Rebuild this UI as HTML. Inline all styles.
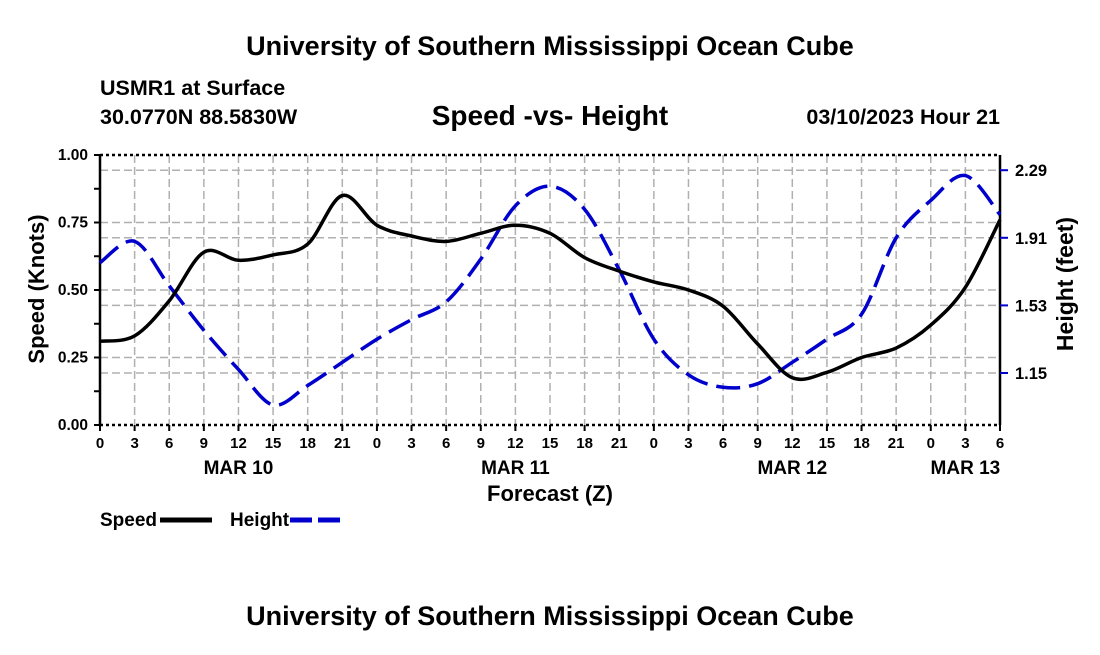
<!DOCTYPE html>
<html><head><meta charset="utf-8"><style>
body{margin:0;background:#fff;}
svg text{font-family:"Liberation Sans",sans-serif;font-weight:bold;fill:#000;}
</style></head><body>
<svg id="chart" width="1100" height="650" xmlns="http://www.w3.org/2000/svg">
<text x="550" y="55" font-size="27" text-anchor="middle">University of Southern Mississippi Ocean Cube</text>
<text x="100" y="95" font-size="21.5">USMR1 at Surface</text>
<text x="100" y="124" font-size="21.5">30.0770N  88.5830W</text>
<text x="550" y="125" font-size="28" text-anchor="middle">Speed -vs- Height</text>
<text x="1000" y="124" font-size="21.5" text-anchor="end">03/10/2023 Hour 21</text>
<g id="grid"></g>
<g id="axes"></g>
<g id="series"></g>
<text transform="translate(44,289) rotate(-90)" font-size="22" text-anchor="middle">Speed (Knots)</text>
<text transform="translate(1073,284) rotate(-90)" font-size="23" text-anchor="middle">Height (feet)</text>
<text x="550" y="501" font-size="22" text-anchor="middle">Forecast (Z)</text>
<g>
<text x="100" y="526" font-size="19">Speed</text>
<line x1="160" y1="520" x2="212" y2="520" stroke="#000" stroke-width="5"/>
<text x="230" y="526" font-size="19">Height</text>
<line x1="290" y1="520" x2="342" y2="520" stroke="#00c" stroke-width="5" stroke-dasharray="22,6"/>
</g>
<text x="550" y="625" font-size="27" text-anchor="middle">University of Southern Mississippi Ocean Cube</text>
</svg>
<script>
const hourLabels=["0","3","6","9","12","15","18","21","0","3","6","9","12","15","18","21","0","3","6","9","12","15","18","21","0","3","6"];
const dayLabels=["MAR 10","MAR 11","MAR 12","MAR 13"];
const dayIndex=[4,12,20,25];
const speed=[0.31,0.33,0.46,0.64,0.61,0.63,0.67,0.85,0.74,0.70,0.68,0.71,0.74,0.71,0.62,0.57,0.53,0.50,0.44,0.30,0.175,0.195,0.25,0.285,0.37,0.51,0.76];
const height=[1.77,1.89,1.64,1.39,1.17,0.97,1.08,1.21,1.34,1.45,1.55,1.79,2.09,2.20,2.07,1.73,1.34,1.14,1.07,1.09,1.21,1.34,1.48,1.91,2.12,2.26,2.04];
const speedTicks=[0,0.25,0.5,0.75,1.0];
const speedTickLabels=["0.00","0.25","0.50","0.75","1.00"];
const heightTicks=[1.15,1.53,1.91,2.29];
const heightTickLabels=["1.15","1.53","1.91","2.29"];
const X0=100,X1=1000,Y0=425,Y1=155;
const N=hourLabels.length-1;
const xs=i=>X0+(X1-X0)*i/N;
const ys=v=>Y0-(Y0-Y1)*v;
const yh=h=>373-(h-1.15)/0.38*67.6;
const NS="http://www.w3.org/2000/svg";
function mk(tag,attrs,parent){const e=document.createElementNS(NS,tag);for(const k in attrs)e.setAttribute(k,attrs[k]);document.getElementById(parent).appendChild(e);return e;}
for(let i=1;i<N;i++){const g=mk('line',{x1:xs(i),x2:xs(i),y1:Y1,y2:Y0,stroke:'#b0b0b0','stroke-width':1.5,'stroke-dasharray':'8,4'},'grid');

}
speedTicks.slice(1,4).forEach(v=>{const g=mk('line',{x1:X0,x2:X1,y1:ys(v),y2:ys(v),stroke:'#b0b0b0','stroke-width':1.5,'stroke-dasharray':'8,4'},'grid');

});
heightTicks.forEach(v=>{const g=mk('line',{x1:X0,x2:X1,y1:yh(v),y2:yh(v),stroke:'#b0b0b0','stroke-width':1.5,'stroke-dasharray':'8,4'},'grid');

});
let a;
a=mk('line',{x1:X0,x2:X0,y1:Y1,y2:Y0,stroke:'#000','stroke-width':2.5},'axes');


a=mk('line',{x1:X1,x2:X1,y1:Y1,y2:Y0,stroke:'#000','stroke-width':2.5},'axes');


a=mk('line',{x1:X0,x2:X1,y1:Y0,y2:Y0,stroke:'#000','stroke-width':2.5,'stroke-dasharray':'3,3'},'axes');


a=mk('line',{x1:X0,x2:X1,y1:Y1,y2:Y1,stroke:'#000','stroke-width':2.5,'stroke-dasharray':'3,3'},'axes');


for(let i=0;i<=N;i++){
 a=mk('line',{x1:xs(i),x2:xs(i),y1:Y0,y2:Y0+6,stroke:'#000','stroke-width':2},'axes');
 
 
 const t=mk('text',{x:xs(i),y:448,'font-size':15,'text-anchor':'middle'},'axes');t.textContent=hourLabels[i];
 
 
}
dayLabels.forEach((d,j)=>{const t=mk('text',{x:xs(dayIndex[j]),y:474,'font-size':19,'text-anchor':'middle'},'axes');t.textContent=d;

});
for(let v=0;v<=1.0001;v+=0.125){a=mk('line',{x1:X0-6,x2:X0,y1:ys(v),y2:ys(v),stroke:'#000','stroke-width':2},'axes');

}
speedTicks.forEach((v,j)=>{const t=mk('text',{x:X0-12,y:ys(v)+5,'font-size':15.5,'text-anchor':'end'},'axes');t.textContent=speedTickLabels[j];

});
heightTicks.forEach((v,j)=>{a=mk('line',{x1:X1,x2:X1+8,y1:yh(v),y2:yh(v),stroke:'#00c','stroke-width':2},'axes');


const t=mk('text',{x:X1+15,y:yh(v)+6,'font-size':16.5},'axes');t.textContent=heightTickLabels[j];

});
function smooth(pts){let d='M'+pts[0][0]+','+pts[0][1];
for(let i=0;i<pts.length-1;i++){const p0=pts[Math.max(0,i-1)],p1=pts[i],p2=pts[i+1],p3=pts[Math.min(pts.length-1,i+2)];
d+=` C${p1[0]+(p2[0]-p0[0])/6},${p1[1]+(p2[1]-p0[1])/6} ${p2[0]-(p3[0]-p1[0])/6},${p2[1]-(p3[1]-p1[1])/6} ${p2[0]},${p2[1]}`;}return d;}
const hp=mk('path',{d:smooth(height.map((v,i)=>[xs(i),yh(v)])),fill:'none',stroke:'#00c','stroke-width':3.5,'stroke-dasharray':'24,9'},'series');


const sp=mk('path',{d:smooth(speed.map((v,i)=>[xs(i),ys(v)])),fill:'none',stroke:'#000','stroke-width':3.5},'series');


</script>
</body></html>
